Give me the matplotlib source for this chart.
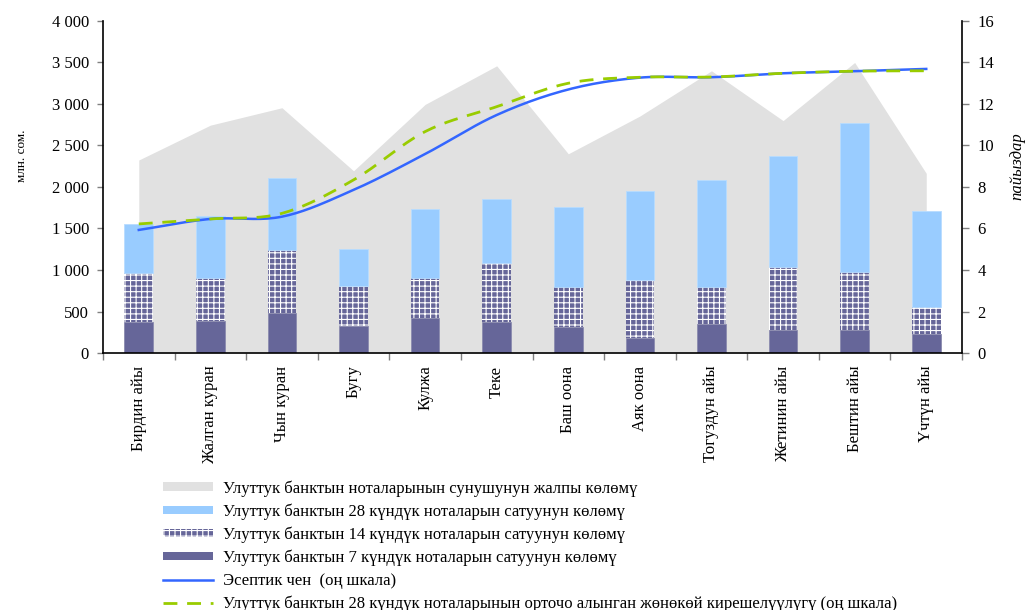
import numpy as np
import matplotlib.pyplot as plt
from matplotlib.patches import Patch
from matplotlib.lines import Line2D
from matplotlib.ticker import FuncFormatter

plt.rcParams['font.family'] = ['Liberation Serif', 'DejaVu Serif']
plt.rcParams['hatch.linewidth'] = 0.8
plt.rcParams['hatch.color'] = 'white'

# data
months = ['Бирдин айы', 'Жалган куран', 'Чын куран', 'Бугу', 'Кулжа', 'Теке',
          'Баш оона', 'Аяк оона', 'Тогуздун айы', 'Жетинин айы', 'Бештин айы', 'Үчтүн айы']
total_offer = [2325, 2745, 2955, 2195, 2995, 3460, 2400, 2855, 3400, 2800, 3500, 2165]
sales_7 = [370, 390, 478, 325, 418, 370, 317, 177, 349, 277, 277, 225]
sales_14 = [590, 510, 763, 486, 489, 711, 482, 703, 442, 759, 699, 326]
sales_28 = [594, 750, 864, 442, 828, 778, 956, 1072, 1293, 1337, 1799, 1163]
cutoff_rate = [5.93, 6.46, 6.57, 7.86, 9.59, 11.47, 12.70, 13.27, 13.29, 13.48, 13.58, 13.69]
avg_yield_28 = [6.22, 6.46, 6.73, 8.34, 10.67, 11.87, 13.00, 13.29, 13.30, 13.48, 13.58, 13.60]

labels = ['Улуттук банктын ноталарынын сунушунун жалпы көлөмү',
          'Улуттук банктын 28 күндүк ноталарын сатуунун көлөмү',
          'Улуттук банктын 14 күндүк ноталарын сатуунун көлөмү',
          'Улуттук банктын 7 күндүк ноталарын сатуунун көлөмү',
          'Эсептик чен  (оң шкала)',
          'Улуттук банктын 28 күндүк ноталарынын орточо алынган жөнөкөй кирешелүүлүгү (оң шкала)']

gray = '#e1e1e1'
light_blue = '#99ccff'
purple = '#666699'
blue = '#3366ff'
green = '#99cc00'


def smooth(xs, ys, n=20):
    # catmull-rom curve through the points (like excel smoothed lines)
    xs = np.asarray(xs, float)
    ys = np.asarray(ys, float)
    px = np.concatenate([[2 * xs[0] - xs[1]], xs, [2 * xs[-1] - xs[-2]]])
    py = np.concatenate([[2 * ys[0] - ys[1]], ys, [2 * ys[-1] - ys[-2]]])
    t = np.linspace(0, 1, n, endpoint=False)
    ox, oy = [], []
    for i in range(1, len(px) - 2):
        for p, o in ((px, ox), (py, oy)):
            p0, p1, p2, p3 = p[i - 1], p[i], p[i + 1], p[i + 2]
            o.extend(0.5 * (2 * p1 + (-p0 + p2) * t + (2 * p0 - 5 * p1 + 4 * p2 - p3) * t ** 2
                            + (-p0 + 3 * p1 - 3 * p2 + p3) * t ** 3))
    ox.append(xs[-1])
    oy.append(ys[-1])
    return np.array(ox), np.array(oy)


x = np.arange(len(months))
s7 = np.array(sales_7)
s14 = np.array(sales_14)
s28 = np.array(sales_28)

fig = plt.figure(figsize=(10.34, 6.1), dpi=100)
ax = fig.add_axes([0.0996, 0.4213, 0.8308, 0.5443])

ax.fill_between(x, 0, total_offer, color=gray, lw=0, zorder=1)
w = 0.4
ax.bar(x, s7, w, color=purple, edgecolor='#8a8aae', lw=0.6, zorder=2)
ax.bar(x, s14, w, bottom=s7, color=purple, hatch='+++', edgecolor='white', lw=0, zorder=2)
ax.bar(x, s28, w, bottom=s7 + s14, color=light_blue, edgecolor='#b8dcff', lw=0.6, zorder=2)

ax.set_xlim(-0.5, len(months) - 0.5)
ax.set_ylim(0, 4000)
ax.set_yticks(np.arange(0, 4001, 500))
ax.yaxis.set_major_formatter(FuncFormatter(lambda v, p: f'{int(v):,}'.replace(',', ' ')))
ax.set_xticks(x)
ax.set_xticklabels(months, rotation=90, va='top', ha='center')
ax.set_xticks(np.arange(-0.5, len(months)), minor=True)
ax.tick_params(axis='x', which='major', length=0, pad=9, labelsize=12)
ax.tick_params(axis='x', which='minor', length=5, width=1, color='#808080')
ax.tick_params(axis='y', length=4, width=1, color='#808080', labelsize=12, pad=6)
for side in ['top', 'right']:
    ax.spines[side].set_visible(False)
ax.spines['left'].set_linewidth(1.2)
ax.spines['bottom'].set_linewidth(1.2)

ax2 = ax.twinx()
ax2.set_ylim(0, 16)
ax2.set_yticks(np.arange(0, 17, 2))
ax2.tick_params(axis='y', length=5, width=1, color='#808080', labelsize=12, pad=6)
for side in ['top', 'left', 'bottom']:
    ax2.spines[side].set_visible(False)
ax2.spines['right'].set_linewidth(1.2)

cx, cy = smooth(x, cutoff_rate)
ax2.plot(cx, cy, color=blue, lw=1.8, zorder=3)
gx, gy = smooth(x, avg_yield_28)
ax2.plot(gx, gy, color=green, lw=2, dashes=(5, 3.5), zorder=4)

fig.text(0.021, 0.745, 'млн. сом.', rotation=90, ha='center', va='center', fontsize=9.5)
fig.text(0.984, 0.727, 'пайыздар', rotation=90, ha='center', va='center',
         fontsize=12, style='italic')

handles = [Patch(facecolor=gray, edgecolor='none'),
           Patch(facecolor=light_blue, edgecolor='none'),
           Patch(facecolor=purple, hatch='+++', edgecolor='white', lw=0),
           Patch(facecolor=purple, edgecolor='none'),
           Line2D([], [], color=blue, lw=1.8),
           Line2D([], [], color=green, lw=2, dashes=(5, 3.5))]
fig.legend(handles, labels, loc='upper left', bbox_to_anchor=(0.1576, 0.213),
           frameon=False, fontsize=12, handlelength=3, handleheight=0.4,
           labelspacing=0.4, handletextpad=0.6, borderaxespad=0, borderpad=0)

fig.savefig('out.png', dpi=100)
